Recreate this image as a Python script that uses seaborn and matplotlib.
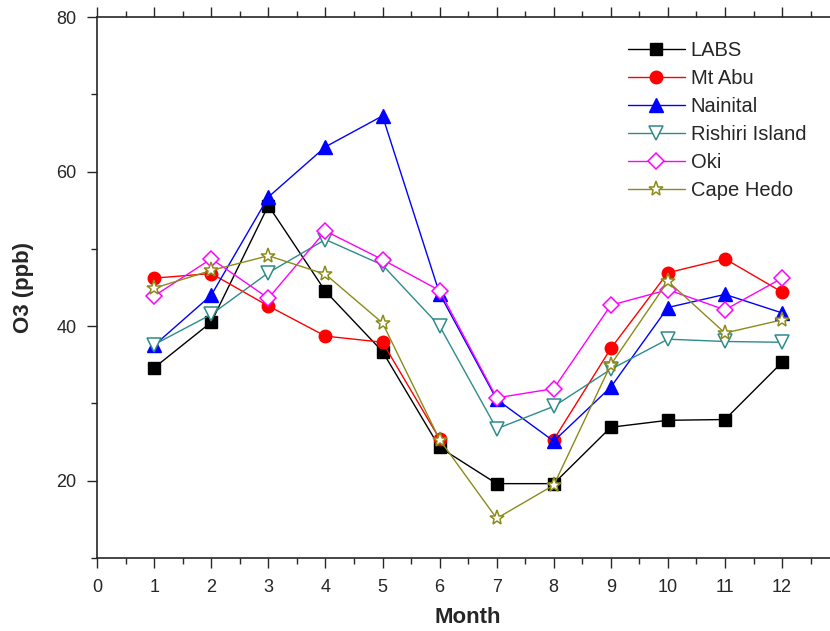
import numpy as np
import pandas as pd
import matplotlib
matplotlib.use("Agg")
import matplotlib.pyplot as plt
from matplotlib.ticker import MultipleLocator
import seaborn as sns

months = [1, 2, 3, 4, 5, 6, 7, 8, 9, 10, 11, 12]
labs = [34.6, 40.5, 55.6, 44.5, 36.7, 24.3, 19.6, 19.6, 26.9, 27.8, 27.9, 35.3]
mt_abu = [46.2, 46.8, 42.6, 38.7, 37.9, 25.4, np.nan, 25.3, 37.1, 46.9, 48.7, 44.4]
nainital = [37.5, 44.0, 56.7, 63.2, 67.2, 44.2, 30.5, 25.1, 32.1, 42.4, 44.1, 41.7]
rishiri = [37.6, 41.5, 46.9, 51.2, 47.9, 40.0, 26.7, 29.6, 34.4, 38.3, 38.0, 37.9]
oki = [43.9, 48.7, 43.6, 52.3, 48.6, 44.6, 30.7, 31.9, 42.7, 44.7, 42.1, 46.2]
cape_hedo = [44.9, 47.2, 49.1, 46.7, 40.4, 25.3, 15.1, 19.4, 35.0, 45.8, 39.1, 40.8]

# Mt Abu has no July value -> gap in the line
sites = ["LABS", "Mt Abu", "Nainital", "Rishiri Island", "Oki", "Cape Hedo"]
values = [labs, mt_abu, nainital, rishiri, oki, cape_hedo]
colors = ["black", "red", "blue", "#2e8b8b", "magenta", "#8b8b1a"]
markers = ["s", "o", "^", "v", "D", "*"]
filled = [True, True, True, False, False, False]
msizes = [8, 9, 10, 10, 8, 11]

sns.set_style("ticks")
plt.rcParams["font.family"] = ["Liberation Sans", "DejaVu Sans"]

fig = plt.figure(figsize=(8.3, 6.31), dpi=100)
ax = fig.add_axes([0.117, 0.116, 0.894, 0.857])

for name, vals, c, m, f, ms in zip(sites, values, colors, markers, filled, msizes):
    d = pd.DataFrame({"Month": months, "O3": vals})
    # split at missing values so the line is broken there
    grp = d["O3"].isna().cumsum()
    d = d.assign(seg=grp).dropna()
    for i, (_, part) in enumerate(d.groupby("seg")):
        sns.lineplot(data=part, x="Month", y="O3", ax=ax, color=c, marker=m,
                     markersize=ms, linewidth=1.0,
                     label=name if i == 0 else None,
                     markerfacecolor=c if f else "white",
                     markeredgecolor=c, markeredgewidth=1.0 if f else 1.1)

ax.set_xlim(0, 13)
ax.set_ylim(10, 80)
ax.set_xticks(range(0, 13))
ax.xaxis.set_minor_locator(MultipleLocator(0.5))
ax.set_yticks([20, 40, 60, 80])
ax.yaxis.set_minor_locator(MultipleLocator(10))
ax.tick_params(which="both", top=True, direction="out", labelsize=13, width=1)
ax.tick_params(which="major", length=7, pad=8)
ax.tick_params(which="minor", length=4)
for s in ax.spines.values():
    s.set_linewidth(1.2)
ax.set_xlabel("Month", fontsize=16, fontweight="bold", labelpad=8)
ax.set_ylabel("O3 (ppb)", fontsize=16, fontweight="bold", labelpad=16)

ax.legend(loc="upper right", bbox_to_anchor=(0.98, 0.99), frameon=False,
          fontsize=14.5, handlelength=2.8, labelspacing=0.45, handletextpad=0.3)

fig.savefig("out.png", dpi=100)
